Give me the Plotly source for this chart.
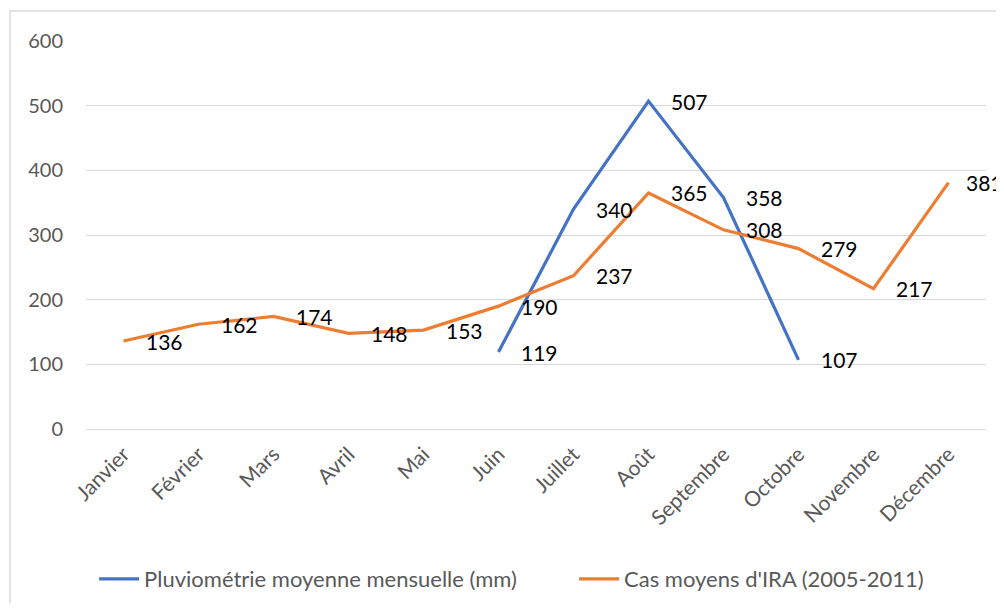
import plotly.graph_objects as go

months = ["Janvier", "Février", "Mars", "Avril", "Mai", "Juin", "Juillet",
          "Août", "Septembre", "Octobre", "Novembre", "Décembre"]
pluvio = [None, None, None, None, None, 119, 340, 507, 358, 107, None, None]
ira = [136, 162, 174, 148, 153, 190, 237, 365, 308, 279, 217, 381]
y_ticks = [0, 100, 200, 300, 400, 500, 600]

name_pluvio = "Pluviométrie moyenne mensuelle (mm)"
name_ira = "Cas moyens d'IRA (2005-2011)"

FONT = "Lato, Calibri, Carlito, sans-serif"
BLUE = "#4472C4"
ORANGE = "#ED7D31"

fig = go.Figure()
fig.add_trace(go.Scatter(x=months, y=pluvio, mode="lines", name=name_pluvio,
                         line=dict(color=BLUE, width=3.2), legend="legend"))
fig.add_trace(go.Scatter(x=months, y=ira, mode="lines", name=name_ira,
                         line=dict(color=ORANGE, width=3.2), legend="legend2"))

last = len(months) - 1
for series in (pluvio, ira):
    for i, (m, v) in enumerate(zip(months, series)):
        if v is None:
            continue
        fig.add_annotation(x=m, y=v, text=str(v), showarrow=False,
                           xanchor="left", yanchor="middle",
                           xshift=15 if i == last else 20,
                           font=dict(family=FONT, size=21, color="#000000"))

fig.add_shape(type="rect", xref="paper", yref="paper",
              x0=-0.0844, x1=1.2, y0=-0.6, y1=1.077,
              line=dict(color="#d9d9d9", width=1.5), layer="below")

legend_style = dict(orientation="h", xanchor="left", y=-0.3866,
                    yanchor="middle", font=dict(size=22, color="#595959"),
                    itemwidth=40, bgcolor="rgba(0,0,0,0)")

fig.update_layout(
    width=996, height=595,
    margin=dict(l=78, r=18, t=33, b=174, autoexpand=False),
    paper_bgcolor="white", plot_bgcolor="white",
    font=dict(family=FONT, size=19, color="#595959"),
    showlegend=True,
    legend=dict(x=0.009, **legend_style),
    legend2=dict(x=0.5423, **legend_style),
)
fig.update_xaxes(type="category", range=[-0.5, 11.5], automargin=False,
                 showgrid=False, showline=False, ticks="",
                 tickangle=-45, ticklabelstandoff=8,
                 tickfont=dict(size=21, color="#595959"))
fig.update_yaxes(range=[0, 600], tickvals=y_ticks, automargin=False,
                 showgrid=True,
                 gridcolor="#d9d9d9", gridwidth=1.3, zeroline=True,
                 zerolinecolor="#d9d9d9", zerolinewidth=1.3,
                 ticklabelstandoff=22, tickfont=dict(size=20, color="#595959"))

fig.write_html("out.html")
